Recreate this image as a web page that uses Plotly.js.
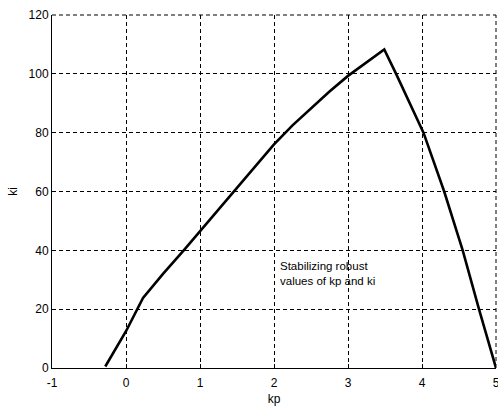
<!DOCTYPE html>
<html>
<head>
<meta charset="utf-8">
<script src="https://cdn.plot.ly/plotly-3.0.1.min.js"></script>
<style>
  html, body { margin: 0; padding: 0; background: #fff; }
  #chart { width: 498px; height: 409px; }
</style>
</head>
<body>
<div id="chart"></div>
<script>
// Boundary of the stabilizing (kp, ki) region
const kp = [-0.28, 0.0, 0.23, 0.5, 0.78, 1.0, 1.27, 1.5, 1.75, 2.0, 2.25, 2.5, 2.75, 3.0, 3.25, 3.49,
            3.65, 4.02, 4.30, 4.55, 4.77, 5.0];
const ki = [0.5, 12.5, 23.8, 32, 40, 46.5, 54.5, 61.5, 69, 76, 82.5, 88.3, 94, 99.3, 104, 108.3,
            100, 80, 60, 40, 20, 0];

const xTicks = [-1, 0, 1, 2, 3, 4, 5];
const yTicks = [0, 20, 40, 60, 80, 100, 120];

const noteText = 'Stabilizing robust<br>values of kp and ki';

const font = 'Liberation Sans, Arial, sans-serif';

const trace = {
  x: kp,
  y: ki,
  type: 'scatter',
  mode: 'lines',
  line: { color: '#000', width: 2.6 },
  hoverinfo: 'skip'
};

const gridDash = '4px,3px';

const axisCommon = {
  showline: true,
  linecolor: '#000',
  linewidth: 1,
  mirror: false,
  ticks: 'inside',
  ticklen: 4,
  tickcolor: '#000',
  showgrid: true,
  gridcolor: '#000',
  gridwidth: 1,
  griddash: gridDash,
  zeroline: false,
  tickfont: { family: font, size: 12, color: '#000' },
  ticklabeloverflow: 'allow',
  tickmode: 'array'
};

const layout = {
  width: 498,
  height: 409,
  margin: { l: 52, r: 2, t: 15, b: 41 },
  paper_bgcolor: '#fff',
  plot_bgcolor: '#fff',
  showlegend: false,
  xaxis: Object.assign({}, axisCommon, {
    range: [-1, 5],
    tickvals: xTicks,
    ticktext: xTicks.map(String),
    ticklabelstandoff: 4,
    title: { text: 'kp', font: { family: font, size: 12, color: '#000' }, standoff: 5 }
  }),
  yaxis: Object.assign({}, axisCommon, {
    range: [0, 120],
    tickvals: yTicks,
    ticktext: yTicks.map(String),
    title: { text: 'ki', font: { family: font, size: 12, color: '#000' }, standoff: 8 }
  }),
  // dashed grid lines along the top and right edges of the plot box
  shapes: [
    { type: 'line', xref: 'paper', yref: 'paper', x0: 0, x1: 1, y0: 1, y1: 1,
      line: { color: '#000', width: 1, dash: gridDash } },
    { type: 'line', xref: 'paper', yref: 'paper', x0: 1, x1: 1, y0: 0, y1: 1,
      line: { color: '#000', width: 1, dash: gridDash } }
  ],
  annotations: [{
    x: 2.05, y: 32,
    xref: 'x', yref: 'y',
    xanchor: 'left', yanchor: 'middle',
    align: 'left',
    showarrow: false,
    text: noteText,
    font: { family: font, size: 11.5, color: '#000' }
  }]
};

Plotly.newPlot('chart', [trace], layout, { displayModeBar: false, staticPlot: true });
</script>
</body>
</html>
